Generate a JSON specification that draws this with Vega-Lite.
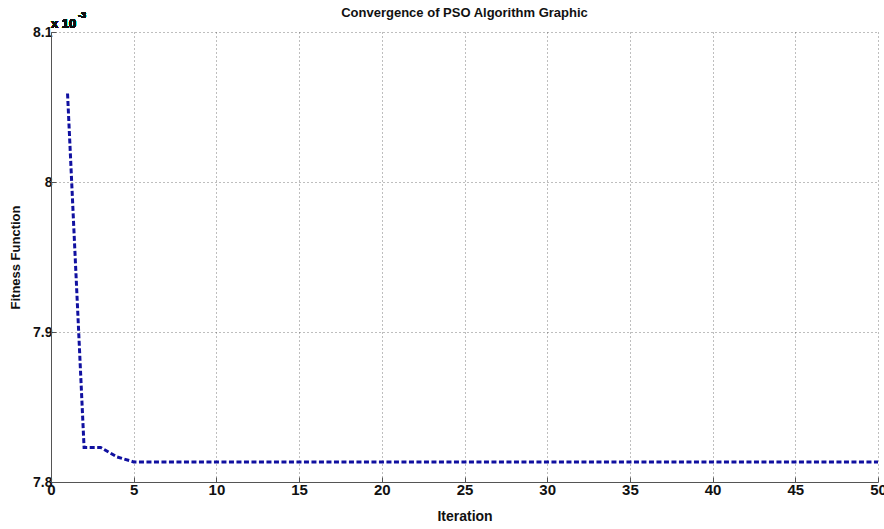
{
  "$schema": "https://vega.github.io/schema/vega-lite/v6.json",
  "width": 827,
  "height": 450,
  "autosize": {"type": "none"},
  "padding": {"left": 51, "top": 32, "right": 6, "bottom": 47},
  "background": "white",
  "title": {"text": "Convergence of PSO Algorithm Graphic", "font": "Liberation Sans", "fontSize": 13, "fontWeight": "bold", "color": "#111", "offset": -9, "anchor": "middle", "frame": "group"},
  "config": {
    "view": {"stroke": null},
    "axis": {"labelFont": "Liberation Sans", "labelFontWeight": "bold", "labelFontSize": 14, "labelColor": "#111", "titleFont": "Liberation Sans", "titleFontWeight": "bold", "titleFontSize": 13, "titleColor": "#111", "domainColor": "#555", "tickColor": "#555", "tickSize": -5, "grid": true, "gridColor": "#444", "gridDash": [1, 3], "gridOpacity": 0.7}
  },
  "data": {"values": [
    {"iteration": 1, "fitness": 8.059},
    {"iteration": 2, "fitness": 7.823},
    {"iteration": 3, "fitness": 7.823},
    {"iteration": 4, "fitness": 7.8167},
    {"iteration": 5, "fitness": 7.8134},
    {"iteration": 6, "fitness": 7.8134},
    {"iteration": 7, "fitness": 7.8134},
    {"iteration": 8, "fitness": 7.8134},
    {"iteration": 9, "fitness": 7.8134},
    {"iteration": 10, "fitness": 7.8134},
    {"iteration": 11, "fitness": 7.8134},
    {"iteration": 12, "fitness": 7.8134},
    {"iteration": 13, "fitness": 7.8134},
    {"iteration": 14, "fitness": 7.8134},
    {"iteration": 15, "fitness": 7.8134},
    {"iteration": 16, "fitness": 7.8134},
    {"iteration": 17, "fitness": 7.8134},
    {"iteration": 18, "fitness": 7.8134},
    {"iteration": 19, "fitness": 7.8134},
    {"iteration": 20, "fitness": 7.8134},
    {"iteration": 21, "fitness": 7.8134},
    {"iteration": 22, "fitness": 7.8134},
    {"iteration": 23, "fitness": 7.8134},
    {"iteration": 24, "fitness": 7.8134},
    {"iteration": 25, "fitness": 7.8134},
    {"iteration": 26, "fitness": 7.8134},
    {"iteration": 27, "fitness": 7.8134},
    {"iteration": 28, "fitness": 7.8134},
    {"iteration": 29, "fitness": 7.8134},
    {"iteration": 30, "fitness": 7.8134},
    {"iteration": 31, "fitness": 7.8134},
    {"iteration": 32, "fitness": 7.8134},
    {"iteration": 33, "fitness": 7.8134},
    {"iteration": 34, "fitness": 7.8134},
    {"iteration": 35, "fitness": 7.8134},
    {"iteration": 36, "fitness": 7.8134},
    {"iteration": 37, "fitness": 7.8134},
    {"iteration": 38, "fitness": 7.8134},
    {"iteration": 39, "fitness": 7.8134},
    {"iteration": 40, "fitness": 7.8134},
    {"iteration": 41, "fitness": 7.8134},
    {"iteration": 42, "fitness": 7.8134},
    {"iteration": 43, "fitness": 7.8134},
    {"iteration": 44, "fitness": 7.8134},
    {"iteration": 45, "fitness": 7.8134},
    {"iteration": 46, "fitness": 7.8134},
    {"iteration": 47, "fitness": 7.8134},
    {"iteration": 48, "fitness": 7.8134},
    {"iteration": 49, "fitness": 7.8134},
    {"iteration": 50, "fitness": 7.8134}
  ]},
  "layer": [
    {
      "mark": {"type": "line", "color": "#1010a0", "strokeWidth": 3, "strokeDash": [5, 2.5], "clip": true},
      "encoding": {
        "x": {"field": "iteration", "type": "quantitative", "scale": {"domain": [0, 50], "nice": false, "zero": false}, "axis": {"values": [0, 5, 10, 15, 20, 25, 30, 35, 40, 45, 50], "title": "Iteration", "titleFontSize": 14, "titlePadding": 12, "labelFontSize": 15, "labelPadding": 5, "labelFlush": false}},
        "y": {"field": "fitness", "type": "quantitative", "scale": {"domain": [7.8, 8.1], "nice": false, "zero": false}, "axis": {"values": [7.8, 7.9, 8, 8.1], "labelExpr": "format(datum.value, '~g')", "title": "Fitness Function", "titlePadding": 10, "labelPadding": 4, "labelFlush": false}}
      }
    },
    {
      "mark": {"type": "text", "text": "x 10", "font": "Liberation Sans", "fontWeight": "bold", "fontSize": 13, "align": "left", "baseline": "alphabetic", "dx": 0, "dy": -4, "color": "#111"},
      "encoding": {"x": {"datum": 0, "type": "quantitative"}, "y": {"datum": 8.1, "type": "quantitative"}}
    },
    {
      "mark": {"type": "text", "text": "-3", "font": "Liberation Sans", "fontWeight": "bold", "fontSize": 9, "align": "left", "baseline": "alphabetic", "dx": 27, "dy": -14, "color": "#111"},
      "encoding": {"x": {"datum": 0, "type": "quantitative"}, "y": {"datum": 8.1, "type": "quantitative"}}
    }
  ]
}
